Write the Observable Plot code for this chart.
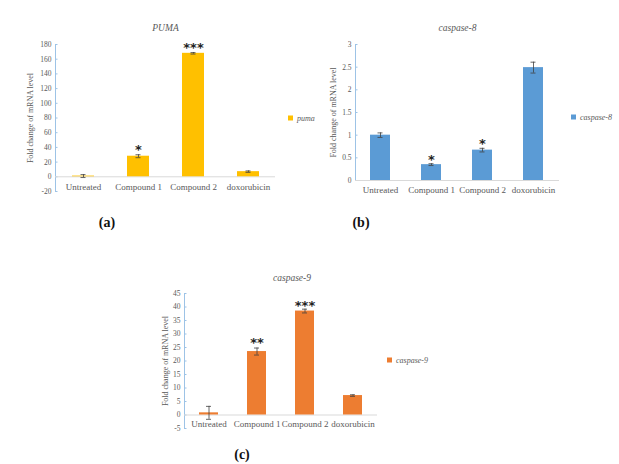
<!DOCTYPE html>
<html>
<head>
<meta charset="utf-8">
<script src="https://cdn.jsdelivr.net/npm/d3@7"></script>
<script src="https://cdn.jsdelivr.net/npm/@observablehq/plot@0.6"></script>
<style>
  body { margin: 0; background: #fff; }
  #fig { position: relative; width: 619px; height: 464px; background: #fff;
         font-family: "Liberation Serif", "Times New Roman", serif; overflow: hidden; }
  .panel { position: absolute; }
  .tag { position: absolute; font-weight: bold; font-size: 14px; color: #111;
         transform: translate(-50%, -50%); white-space: nowrap; }
  .key { position: absolute; transform: translateY(-50%); white-space: nowrap; width: auto !important; }
  .key, .key * { font-family: "Liberation Serif", "Times New Roman", serif !important;
                 font-size: 8px !important; font-style: italic !important; color: #595959 !important;
                 white-space: nowrap !important; }
  .key * { margin-left: 0 !important; }
</style>
</head>
<body>
<div id="fig"></div>
<script>
// Treatment groups shared by all three panels
const treatments = ["Untreated", "Compound 1", "Compound 2", "doxorubicin"];

// (a) PUMA fold change
const pumaMean = [1, 28, 168, 7];
const pumaErr = [2, 2, 1, 1];
const pumaStars = ["", "*", "***", ""];
const pumaStarY = [null, 41, 180, null];
const pumaTicks = [-20, 0, 20, 40, 60, 80, 100, 120, 140, 160, 180];

// (b) caspase-8 fold change
const casp8Mean = [1.0, 0.35, 0.67, 2.49];
const casp8Err = [0.05, 0.02, 0.04, 0.12];
const casp8Stars = ["", "*", "*", ""];
const casp8StarY = [null, 0.53, 0.88, null];
const casp8Ticks = [0, 0.5, 1, 1.5, 2, 2.5, 3];

// (c) caspase-9 fold change
const casp9Mean = [0.8, 23.5, 38.5, 7.2];
const casp9Err = [2.4, 1.3, 0.7, 0.3];
const casp9Stars = ["", "**", "***", ""];
const casp9StarY = [null, 27.8, 41.5, null];
const casp9Ticks = [-5, 0, 5, 10, 15, 20, 25, 30, 35, 40, 45];

const serif = '"Liberation Serif", "Times New Roman", serif';
const axisBlue = "#9dc3e6";
const grayText = "#595959";
const fig = document.getElementById("fig");

function panel(cfg) {
  const rows = treatments.map((t, i) => ({
    t, m: cfg.mean[i], e: cfg.err[i], s: cfg.stars[i], sy: cfg.starY[i]
  }));
  const frameW = cfg.width - cfg.margin[1] - cfg.margin[3];
  const capInset = cfg.barW / 2 - 2.5;

  const chart = Plot.plot({
    width: cfg.width,
    height: cfg.height,
    marginTop: cfg.margin[0],
    marginRight: cfg.margin[1],
    marginBottom: cfg.margin[2],
    marginLeft: cfg.margin[3],
    style: { fontFamily: serif, background: "transparent", overflow: "visible" },
    x: { domain: treatments, paddingInner: 0.6, paddingOuter: 0.3, axis: null },
    y: { domain: cfg.domain, axis: null },
    marks: [
      // vertical value axis line and inside ticks
      Plot.frame({ anchor: "left", stroke: axisBlue, strokeWidth: 1 }),
      Plot.tickY(cfg.ticks, { y: d => d, insetRight: frameW - 2.5, stroke: axisBlue, strokeWidth: 1 }),
      Plot.axisY({ ticks: cfg.ticks, tickSize: 0, tickPadding: 4, label: null,
                   tickFormat: d => String(d), fontSize: 7.5, fill: grayText,
                   fontFamily: serif }),
      // category baseline at zero
      Plot.ruleY([0], { stroke: "#d9d9d9", strokeWidth: 1 }),
      Plot.barY(rows, { x: "t", y: "m", fill: cfg.color }),
      // error bars
      Plot.ruleX(rows, { x: "t", y1: d => d.m - d.e, y2: d => d.m + d.e, stroke: "#404040", strokeWidth: 0.8 }),
      Plot.tickY(rows, { x: "t", y: d => d.m - d.e, insetLeft: capInset, insetRight: capInset, stroke: "#404040", strokeWidth: 0.8 }),
      Plot.tickY(rows, { x: "t", y: d => d.m + d.e, insetLeft: capInset, insetRight: capInset, stroke: "#404040", strokeWidth: 0.8 }),
      // significance stars
      Plot.text(rows.filter(d => d.s), { x: "t", y: "sy", text: "s", fontSize: 13, fontWeight: "bold",
                 fill: "#222", lineAnchor: "middle", dy: 3, fontFamily: "DejaVu Sans" }),
      // category labels under the zero line
      Plot.text(treatments, { x: d => d, y: 0, dy: cfg.labelDy, text: d => d, fontSize: 9,
                 fill: grayText, lineAnchor: "middle", fontFamily: serif }),
      // panel title
      Plot.text([cfg.title], { frameAnchor: "top", dy: cfg.titleDy, dx: cfg.titleDx, fontSize: 9.5,
                 fontStyle: "italic", fill: grayText, lineAnchor: "middle", fontFamily: serif }),
      // value axis title
      Plot.text(["Fold change of mRNA level"], { frameAnchor: "left", dx: cfg.yLabelDx, rotate: -90,
                 fontSize: 8, fill: grayText, lineAnchor: "middle", textAnchor: "middle", fontFamily: serif })
    ]
  });
  chart.classList.add("panel");
  chart.style.left = cfg.left + "px";
  chart.style.top = cfg.top + "px";
  fig.appendChild(chart);

  const key = Plot.legend({
    color: { domain: [cfg.key], range: [cfg.color] },
    swatchSize: 5,
    swatchWidth: 5,
    swatchHeight: 5
  });
  key.classList.add("key");
  key.style.left = cfg.keyX + "px";
  key.style.top = cfg.keyY + "px";
  fig.appendChild(key);

  const tag = document.createElement("div");
  tag.className = "tag";
  tag.textContent = cfg.tag;
  tag.style.left = cfg.tagX + "px";
  tag.style.top = cfg.tagY + "px";
  fig.appendChild(tag);
}

panel({
  mean: pumaMean, err: pumaErr, stars: pumaStars, starY: pumaStarY, ticks: pumaTicks,
  domain: [-20, 180], color: "#ffc000", title: "PUMA", key: "puma", tag: "(a)",
  left: 0, top: 0, width: 300, height: 210, margin: [44, 25, 19, 55], barW: 22,
  labelDy: 10, titleDy: -17, titleDx: 0, yLabelDx: -25,
  keyX: 288, keyY: 118, tagX: 107, tagY: 223
});

panel({
  mean: casp8Mean, err: casp8Err, stars: casp8Stars, starY: casp8StarY, ticks: casp8Ticks,
  domain: [0, 3], color: "#5b9bd5", title: "caspase-8", key: "caspase-8", tag: "(b)",
  left: 300, top: 0, width: 319, height: 210, margin: [44, 60, 30, 55], barW: 20,
  labelDy: 10, titleDy: -17, titleDx: 0, yLabelDx: -22,
  keyX: 571, keyY: 117, tagX: 361, tagY: 223
});

panel({
  mean: casp9Mean, err: casp9Err, stars: casp9Stars, starY: casp9StarY, ticks: casp9Ticks,
  domain: [-5, 45], color: "#ed7d31", title: "caspase-9", key: "caspase-9", tag: "(c)",
  left: 150, top: 260, width: 300, height: 190, margin: [33, 73, 22, 34], barW: 19,
  labelDy: 9, titleDy: -16, titleDx: 11, yLabelDx: -19,
  keyX: 387, keyY: 360, tagX: 242, tagY: 455
});
</script>
</body>
</html>
